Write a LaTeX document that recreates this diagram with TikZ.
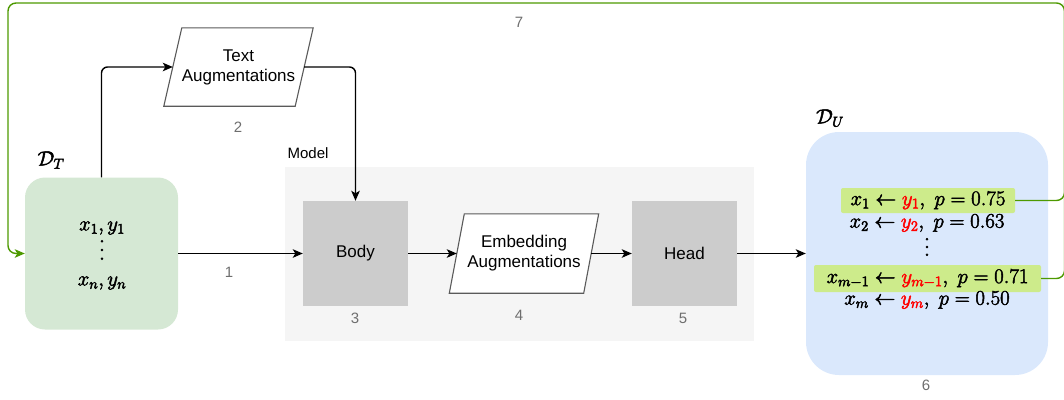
\documentclass[tikz,border=0pt]{standalone}
\usepackage{fontspec}
\newfontfamily\lsans{Liberation Sans}
\usetikzlibrary{arrows.meta,calc}

\definecolor{dtgreen}{HTML}{D5E8D4}
\definecolor{dublue}{HTML}{DAE8FC}
\definecolor{hlgreen}{HTML}{CDEB8B}
\definecolor{fbgreen}{HTML}{4D9900}
\definecolor{boxgrey}{HTML}{CCCCCC}
\definecolor{modelbg}{HTML}{F5F5F5}
\definecolor{numgrey}{HTML}{6E6E6E}
\definecolor{edgegrey}{HTML}{5A5A5A}

% slightly heavier formulas: fill and stroke the glyphs
\newcommand\heavytext[1]{\special{pdf:literal direct q 2 Tr 0.5 w}#1\special{pdf:literal direct Q}}
% vertical dots with wider spacing
\newcommand\widevdots[1]{\vbox{\baselineskip=#1\lineskiplimit=0pt\hbox{$.$}\hbox{$.$}\hbox{$.$}}}

\tikzset{
  lbl/.style={font=\lsans\fontsize{17}{20}\selectfont, align=center, inner sep=0pt},
  num/.style={font=\lsans\fontsize{15}{18}\selectfont, text=numgrey, inner sep=0pt},
  mtxt/.style={font=\fontsize{20}{24}\selectfont, inner sep=0pt},
  blk/.style={fill=boxgrey, minimum width=105pt, minimum height=105pt, inner sep=0pt,
    font=\lsans\fontsize{17}{20}\selectfont},
  holder/.style={inner sep=0pt, minimum width=#1},
  para/.style={draw=edgegrey, line width=1.1pt, fill=white},
  tip/.style={-{Stealth[length=10pt,width=8.5pt,inset=2.5pt]}},
  conn/.style={line width=1.4pt, rounded corners=6pt, tip},
  fb/.style={draw=fbgreen, line width=1.4pt, rounded corners=8pt},
  hl/.style={fill=hlgreen, rounded corners=2pt, inner sep=0pt},
}

\begin{document}
\begin{tikzpicture}[x=1pt,y=-1pt]
\useasboundingbox (0,0) rectangle (1064,399);

% model group background
\node[fill=modelbg, minimum width=469pt, minimum height=174pt, inner sep=0pt] (model) at (519.5,254) {};
\node[font=\lsans\fontsize{15}{18}\selectfont, inner sep=0pt] (modellbl) at (308,153) {Model};

% labelled data set
\node[fill=dtgreen, rounded corners=20pt, minimum width=153pt, minimum height=152pt, inner sep=0pt] (dt) at (101.5,253.5) {};
\node[mtxt] (dtname) at (51,160) {\heavytext{$\mathcal{D}_T$}};
\node[mtxt] (dt1) at (102,228) {\heavytext{$x_1, y_1$}};
\node[mtxt] (dtdots) at (102,250) {\heavytext{\widevdots{8.7pt}}};
\node[mtxt] (dtn) at (102,283) {\heavytext{$x_n, y_n$}};

% text augmentations
\node[holder=131pt, minimum height=78pt] (ta) at (238.5,67) {};
\draw[para] ([xshift=9pt]ta.north west) -- ([xshift=9pt]ta.north east)
  -- ([xshift=-9pt]ta.south east) -- ([xshift=-9pt]ta.south west) -- cycle;
\node[lbl] (talbl) at (ta) {Text\\Augmentations};

% model parts
\node[blk] (body) at (355.5,253.5) {Body};
\node[holder=134pt, minimum height=79pt] (ea) at (524,253.5) {};
\draw[para] ([xshift=7.5pt]ea.north west) -- ([xshift=7.5pt]ea.north east)
  -- ([xshift=-7.5pt]ea.south east) -- ([xshift=-7.5pt]ea.south west) -- cycle;
\node[lbl] (ealbl) at (ea) {Embedding\\Augmentations};
\node[blk] (head) at (684.5,253.5) {Head};

% pseudo-labelled data set
\node[fill=dublue, rounded corners=33pt, minimum width=242pt, minimum height=243pt, inner sep=0pt] (du) at (927,253.5) {};
\node[mtxt] (duname) at (830,118) {\heavytext{$\mathcal{D}_U$}};
\node[hl, minimum width=174pt, minimum height=25pt] (hl1) at (928,200.5) {};
\node[mtxt] (r1) at (hl1) {\heavytext{$x_1 \leftarrow {\color{red}y_1},\ p = 0.75$}};
\node[mtxt] (r2) at (927,223) {\heavytext{$x_2 \leftarrow {\color{red}y_2},\ p = 0.63$}};
\node[mtxt] (rdots) at (927,247) {\heavytext{\widevdots{7.8pt}}};
\node[hl, minimum width=227pt, minimum height=27pt] (hl2) at (927.5,278.5) {};
\begin{scope}
  \clip (hl2.south west) rectangle (hl2.north east);
  \node[mtxt] (r3) at (hl2) {\heavytext{$x_{m-1} \leftarrow {\color{red}y_{m-1}},\ p = 0.71$}};
\end{scope}
\node[mtxt] (r4) at (927,300) {\heavytext{$x_m \leftarrow {\color{red}y_m},\ p = 0.50$}};

% step numbers
\node[num] (n1) at (229,272) {1};
\node[num] (n2) at (238,127) {2};
\node[num] (n3) at (355,318) {3};
\node[num] (n4) at (519,315) {4};
\node[num] (n5) at (683,318) {5};
\node[num] (n6) at (926,385) {6};
\node[num] (n7) at (519,22) {7};

% data flow
\draw[conn] (dt.east) -- (body.west);
\draw[conn] (dt.north) |- (ta.west);
\draw[conn] (ta.east) -| (body.north);
\draw[conn] (body.east) -- (ea.west);
\draw[conn] (ea.east) -- (head.west);
\draw[conn] (head.east) -- (du.west);

% feedback of confident pseudo-labels
\coordinate (fbtr) at (1064.5,3);
\coordinate (fbtl) at (8,3);
\draw[fb, tip] (hl1.east) -| (fbtr) -- (fbtl) |- (dt.west);
\draw[fb] (hl2.east) -| (fbtr);
\end{tikzpicture}
\end{document}
